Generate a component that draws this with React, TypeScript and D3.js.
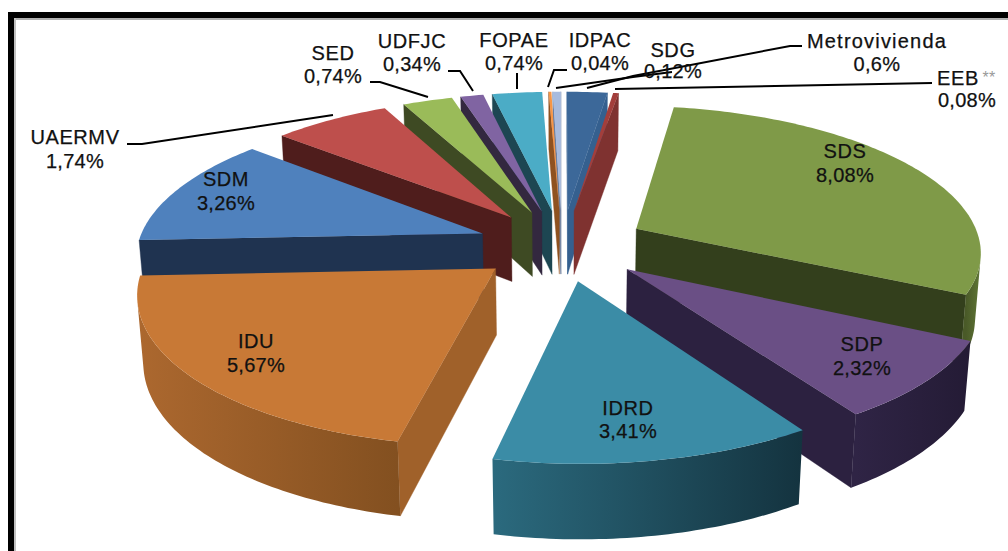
import React from "react";
import * as d3 from "d3";

// ---- data ----
const names = ["SDS","SDP","IDRD","IDU","SDM","UAERMV","SED","UDFJC","FOPAE","IDPAC","SDG","Metrovivienda","EEB"];
const values = [8.08,2.32,3.41,5.67,3.26,1.74,0.74,0.34,0.74,0.04,0.12,0.6,0.08];
const valueLabels = ["8,08%","2,32%","3,41%","5,67%","3,26%","1,74%","0,74%","0,34%","0,74%","0,04%","0,12%","0,6%","0,08%"];
const topColors = ["#7F9A48","#6A4F85","#3B8CA6","#C87936","#4F81BD","#BE4F4C","#9ABB59","#8064A2","#4BACC6","#F79646","#A8BBDD","#3C6899","#A33E3B"];
const wallLeft = ["#4a5a28","#2f2445","#2B6A7E","#AC682F","#1F3350","#4F1D1C","#3E4A23","#33283F","#1D4652","#9B5A22","#7f90b0","#2f5580","#7F3230"];
const wallRight = ["#5f7636","#241b35","#14333F","#835020","#1F3350","#4F1D1C","#3E4A23","#33283F","#1D4652","#9B5A22","#7f90b0","#2f5580","#7F3230"];
const radialColors = ["#333F1C","#2C2140","#1F5566","#A0612A","#1F3350","#4F1D1C","#3E4A23","#33283F","#1D4652","#8F5220","#6e80a0","#35608F","#7F3230"];

const labelX = [845,862,628,256,226,75,333,412,514,600,673,877,967];
const labelY = [151,344,408,341,179,137,53,41,40,40,50,41,78];
const labelY2 = [175,368,431,365,203,161,76,64,63,63,71,64,100];

const leaderLines: [number,number][][] = [
  [[127,144],[142,144],[333,115]],
  [[370,82],[380,82],[428,97]],
  [[448,71],[460,71],[473,91]],
  [[517,73],[517,89]],
  [[567,70],[554,70],[548,87]],
  [[556,88],[633,77],[672,72]],
  [[587,88],[633,76],[790,46],[802,46]],
  [[615,89],[932,83]],
];

// ---- pie geometry ----
const W = 1008, H = 551;
const deg = Math.PI / 180;
const cx = 562, cy = 245, R = 345, E = 85, thick = 73;
const sinE = 0.42, cosE = 0.907, persp = 0.000414 / 0.907;

const project = (X: number, Y: number, Z: number): [number, number] => {
  const w = 1 + (Y * cosE - Z * sinE) * persp;
  return [cx + X / w, cy - (Y * sinE + Z * cosE) / w];
};
const line = d3.line<[number,number]>().x(d => d[0]).y(d => d[1]);

const pie = d3.pie<number>().sort(null).startAngle(9 * deg).endAngle(369 * deg);
const arcs = pie(values);

function slicePaths(i: number) {
  const a = arcs[i];
  const mid = (a.startAngle + a.endAngle) / 2;
  const ox = E * Math.sin(mid), oy = E * Math.cos(mid);
  const P = (r: number, t: number, z: number) => project(ox + r * Math.sin(t), oy + r * Math.cos(t), z);
  const n = Math.max(2, Math.ceil((a.endAngle - a.startAngle) / deg));
  const ts = d3.range(n + 1).map(k => a.startAngle + (a.endAngle - a.startAngle) * k / n);
  const top: [number,number][] = [P(0, 0, 0), ...ts.map(t => P(R, t, 0))];
  const walls: string[] = [];
  const quad = (q: [number,number][]) => {
    if (d3.polygonArea(q) > 0) walls.push(line(q)! + "Z");
  };
  quad([P(0,0,0), P(R,a.startAngle,0), P(R,a.startAngle,-thick), P(0,0,-thick)]);
  quad([P(0,0,0), P(0,0,-thick), P(R,a.endAngle,-thick), P(R,a.endAngle,0)]);
  // the front-facing part of the rim, as one outline filled with a gradient
  const front = d3.range(n).filter(k =>
    d3.polygonArea([P(R,ts[k],0), P(R,ts[k+1],0), P(R,ts[k+1],-thick), P(R,ts[k],-thick)]) > 0);
  let rim = "", x0 = 0, x1 = 1;
  if (front.length) {
    const t = ts.slice(front[0], front[front.length - 1] + 2);
    const upper = t.map(v => P(R, v, 0));
    const lower = t.map(v => P(R, v, -thick)).reverse();
    rim = line([...upper, ...lower])! + "Z";
    [x0, x1] = d3.extent(upper, d => d[0]) as [number, number];
  }
  return { top: line(top)! + "Z", walls, rim, x0, x1 };
}

const order = d3.range(values.length)
  .sort((p, q) => Math.cos((arcs[q].startAngle+arcs[q].endAngle)/2) - Math.cos((arcs[p].startAngle+arcs[p].endAngle)/2));

const font = "'Liberation Sans', Arial, sans-serif";

export default function App() {
  return (
    <svg width={W} height={H} style={{ position: "absolute", left: 0, top: 0, background: "#fff" }}>
      <rect x={14} y={18} width={W} height={2} fill="#b0b0b0" />
      <rect x={14} y={18} width={2} height={H} fill="#c0c0c0" />
      <rect x={8} y={12} width={W} height={6} fill="#000" />
      <rect x={8} y={12} width={6} height={H} fill="#000" />
      {order.map(i => {
        const s = slicePaths(i);
        return (
          <g key={names[i]}>
            <linearGradient id={`rim${i}`} gradientUnits="userSpaceOnUse" x1={s.x0} x2={s.x1} y1={0} y2={0}>
              <stop offset="0" stopColor={wallLeft[i]} />
              <stop offset="1" stopColor={wallRight[i]} />
            </linearGradient>
            {s.walls.map((d, k) => <path key={k} d={d} fill={radialColors[i]} stroke={radialColors[i]} strokeWidth={0.4} />)}
            {s.rim && <path d={s.rim} fill={`url(#rim${i})`} />}
            <path d={s.top} fill={topColors[i]} />
          </g>
        );
      })}
      {leaderLines.map((l, i) => <path key={i} d={line(l)!} fill="none" stroke="#000" strokeWidth={2} />)}
      <g fontFamily={font} fontSize={20} fill="#111" stroke="#111" strokeWidth={0.25} textAnchor="middle" style={{ letterSpacing: "0.3px" }}>
        {names.map((n, i) => (
          <g key={n}>
            <text x={n === "EEB" ? 958 : labelX[i]} y={labelY[i] + 7} style={{ letterSpacing: n === "Metrovivienda" ? "1.2px" : "0.6px" }}>{n}</text>
            <text x={labelX[i]} y={labelY2[i] + 7}>{valueLabels[i]}</text>
          </g>
        ))}
        <text x={989} y={83} fontSize={16} fill="#999" stroke="none">**</text>
      </g>
    </svg>
  );
}
